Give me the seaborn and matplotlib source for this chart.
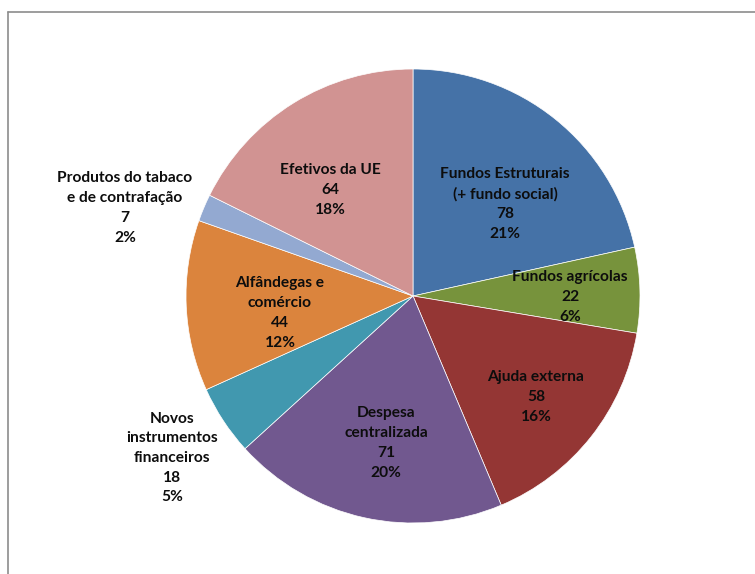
import matplotlib
matplotlib.use("Agg")
import matplotlib.pyplot as plt
import seaborn as sns

categories = ["Fundos Estruturais\n(+ fundo social)", "Fundos agrícolas", "Ajuda externa",
              "Despesa\ncentralizada", "Novos\ninstrumentos\nfinanceiros", "Alfândegas e\ncomércio",
              "Produtos do tabaco\ne de contrafação", "Efetivos da UE"]
values = [78, 22, 58, 71, 18, 44, 7, 64]
percents = ["21%", "6%", "16%", "20%", "5%", "12%", "2%", "18%"]
colors = ["#4572A7", "#77933C", "#943634", "#71588F", "#4198AF", "#DB843D", "#93A9D1", "#D19392"]

# label centres in pixels (layout)
label_px = [(505, 204), (570, 297), (536, 397), (386, 443), (172, 458), (280, 313), (125, 208), (330, 190)]

sns.set_theme(style="white")
plt.rcParams['font.family'] = ['Lato', 'DejaVu Sans']

W, H = 755, 574
fig = plt.figure(figsize=(W / 100, H / 100), dpi=100)
ax = fig.add_axes([0, 0, 1, 1])

cx, cy, R = 413, 296, 227
ax.pie(values, colors=colors, startangle=90, counterclock=False,
       wedgeprops=dict(edgecolor="white", linewidth=0.5), radius=1.0, center=(0, 0))
ax.set_xlim(-cx / R, (W - cx) / R)
ax.set_ylim(-(H - cy) / R, cy / R)
ax.set_aspect('auto')
ax.axis('off')

for cat, v, p, (px, py) in zip(categories, values, percents, label_px):
    fig.text(px / W, 1 - py / H, f"{cat}\n{v}\n{p}", ha="center", va="center",
             fontsize=11.2, fontweight="bold", color="#0d0d0d", linespacing=1.52)

# chart frame (top and left only visible)
fig.add_artist(plt.Line2D([8 / W, 8 / W], [0, 1 - 12 / H], transform=fig.transFigure, color="#8c8c8c", lw=1.2))
fig.add_artist(plt.Line2D([8 / W, 1], [1 - 12 / H, 1 - 12 / H], transform=fig.transFigure, color="#8c8c8c", lw=1.2))

fig.savefig("out.png", dpi=100, facecolor="white")
